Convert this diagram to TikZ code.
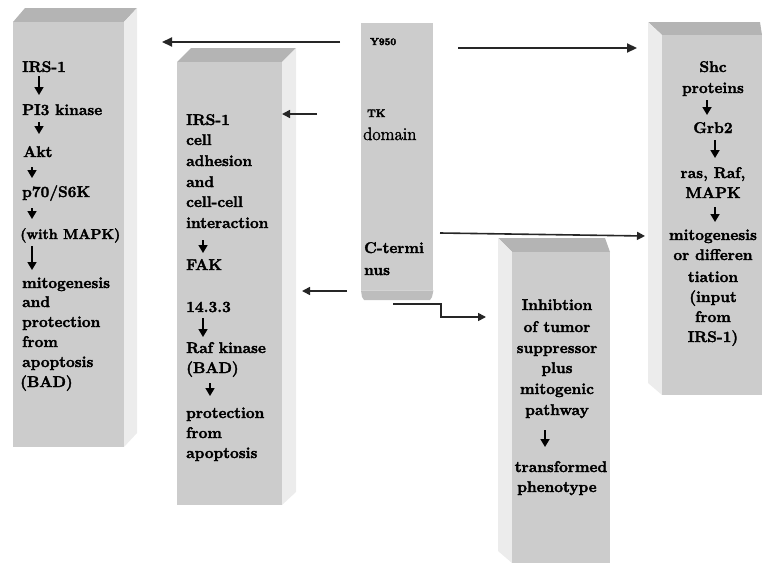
\documentclass[tikz,border=0pt]{standalone}
\usetikzlibrary{arrows.meta}
\definecolor{frontc}{HTML}{CCCCCC}
\definecolor{topc}{HTML}{B4B4B4}
\definecolor{sidec}{HTML}{ECECEC}
\definecolor{botc}{HTML}{BDBDBD}
\makeatletter
\newcommand\heavyink{\pgfsys@invoke{2 Tr 0.35 w}}
\makeatother
\begin{document}
\begin{tikzpicture}[x=1pt,y=-1pt,
  txt/.style={inner sep=0pt, font=\fontsize{15.5}{20}\selectfont\bfseries\heavyink, text=black},
  lt/.style={txt, anchor=base west},
  ct/.style={txt, anchor=base},
  sarr/.style={line width=1.7pt, -{Triangle[length=8pt,width=9pt]}},
  barr/.style={line width=2.2pt, draw=black!85, -{Triangle[length=10pt,width=9pt]}},
  marr/.style={line width=1.6pt, draw=black!85, -{Triangle[length=8pt,width=8pt]}}]
\useasboundingbox (0,0) rectangle (762,565);
% box 1
\fill[topc] (13,22) -- (25,8) -- (137,8) -- (124,22) -- cycle;
\fill[sidec] (124,22) -- (137,8) -- (137,433) -- (124,447) -- cycle;
\fill[frontc] (13,22) rectangle (124,447);
% box 2
\fill[topc] (177,62) -- (191,48) -- (296,48) -- (282,62) -- cycle;
\fill[sidec] (282,62) -- (296,48) -- (296,492) -- (282,505) -- cycle;
\fill[frontc] (177,62) rectangle (282,505);
% box 4
\fill[topc] (512,252) -- (498,238) -- (605,238) -- (610,252) -- cycle;
\fill[sidec] (512,252) -- (498,238) -- (498,551) -- (512,563) -- cycle;
\fill[frontc] (512,252) rectangle (610,563);
% box 5
\fill[topc] (662,35) -- (648,22) -- (760,22) -- (762,35) -- cycle;
\fill[sidec] (662,35) -- (648,22) -- (648,383) -- (662,395) -- cycle;
\fill[frontc] (662,35) rectangle (762,395);
% center receptor
\node[fill=frontc, minimum width=72pt, minimum height=267pt, inner sep=0pt, anchor=north west] (rec) at (361,23) {};
\fill[botc] (rec.south west) -- (rec.south east) -- (432,297) -- (430,300) -- (364,300) -- (362,297) -- cycle;
\node[txt, anchor=base west, font=\fontsize{10}{10}\selectfont\bfseries\heavyink] (y950) at (370,45) {Y950};
\node[txt, anchor=base west, font=\fontsize{11}{10}\selectfont\bfseries\heavyink] (tk) at (367,117) {TK};
\node[txt, anchor=base west, font=\fontsize{18}{20}\selectfont\mdseries\heavyink] (dom) at (363,140) {domain};
\node[lt] (ct1) at (364,253) {C-termi};
\node[lt] (ct2) at (364,275) {nus};
% box 1 text
\node[lt] (a1) at (22,72) {IRS-1};
\node[lt] (a2) at (22,115) {PI3 kinase};
\node[lt] (a3) at (23,157) {Akt};
\node[lt] (a4) at (22,197) {p70/S6K};
\node[lt, font=\fontsize{14.3}{20}\selectfont\bfseries\heavyink] (a5) at (20,239) {(with MAPK)};
\node[lt] (a6) at (22,288) {mitogenesis};
\node[lt] (a7) at (22,307) {and};
\node[lt] (a8) at (22,327) {protection};
\node[lt] (a9) at (22,347) {from};
\node[lt] (a10) at (22,367) {apoptosis};
\node[lt] (a11) at (20,387) {(BAD)};
\draw[sarr] (39,76) -- (39,95);
\draw[sarr] (39,122) -- (39,134);
\draw[sarr] (32,167) -- (32,178);
\draw[sarr] (32,208) -- (32,219);
\draw[sarr] (32,246) -- (32,270);
% box 2 text
\node[lt] (b1) at (186,125) {IRS-1};
\node[lt] (b2) at (186,145) {cell};
\node[lt] (b3) at (186,166) {adhesion};
\node[lt] (b4) at (186,187) {and};
\node[lt] (b5) at (186,207) {cell-cell};
\node[lt] (b6) at (186,228) {interaction};
\node[lt] (b7) at (186,270) {FAK};
\node[lt] (b8) at (186,312) {14.3.3};
\node[lt] (b9) at (186,353) {Raf kinase};
\node[lt] (b10) at (186,373) {(BAD)};
\node[lt] (b11) at (186,418) {protection};
\node[lt] (b12) at (186,438) {from};
\node[lt] (b13) at (186,458) {apoptosis};
\draw[sarr] (203,240) -- (203,253);
\draw[sarr] (203,318) -- (203,337);
\draw[sarr] (210,383) -- (210,396);
% box 4 text
\node[ct] (c1) at (557,310) {Inhibtion};
\node[ct] (c2) at (557,332) {of tumor};
\node[ct] (c3) at (557,353) {suppressor};
\node[ct] (c4) at (557,373) {plus};
\node[ct] (c5) at (557,394) {mitogenic};
\node[ct] (c6) at (557,415) {pathway};
\node[ct] (c7) at (561,472) {transformed};
\node[ct] (c8) at (557,492) {phenotype};
\draw[sarr] (545,430) -- (545,447);
% box 5 text
\node[ct] (d1) at (713,72) {Shc};
\node[ct] (d2) at (713,93) {proteins};
\node[ct] (d3) at (713,133) {Grb2};
\node[ct] (d4) at (713,178) {ras, Raf,};
\node[ct] (d5) at (713,198) {MAPK};
\node[ct] (d6) at (713,240) {mitogenesis};
\node[ct] (d7) at (713,260) {or differen};
\node[ct] (d8) at (713,282) {tiation};
\node[ct] (d9) at (713,302) {(input};
\node[ct] (d10) at (713,322) {from};
\node[ct] (d11) at (713,342) {IRS-1)};
\draw[sarr] (707,100) -- (707,115);
\draw[sarr] (715,140) -- (715,158);
\draw[sarr] (715,207) -- (715,222);
% connectors
\coordinate (p1s) at (340,42);  \coordinate (p1e) at (162,42);
\coordinate (p2s) at (458,48);  \coordinate (p2e) at (637,48);
\coordinate (p3s) at (317,114); \coordinate (p3e) at (282,114);
\coordinate (p4s) at (347,291); \coordinate (p4e) at (302,291);
\coordinate (p5s) at (440,233); \coordinate (p5e) at (645,236);
\coordinate (p6s) at (393,304); \coordinate (p6e) at (486,317);
\draw[barr] (p1s) -- (p1e);
\draw[barr] (p2s) -- (p2e);
\draw[marr] (p3s) -- (p3e);
\draw[marr] (p4s) -- (p4e);
\draw[marr] (p5s) -- (p5e);
\draw[marr] (p6s) -- (441,304) -- (441,317) -- (p6e);
\end{tikzpicture}
\end{document}
